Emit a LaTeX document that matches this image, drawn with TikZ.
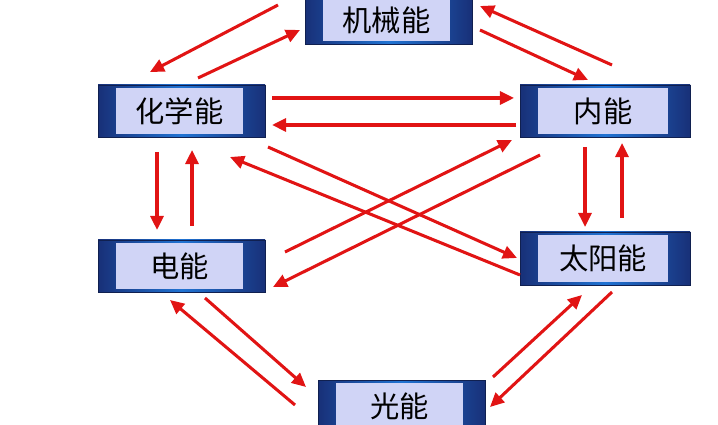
\documentclass[tikz,border=0pt]{standalone}
\usepackage{fontspec}
\newfontfamily\cjk{Noto Sans CJK SC}
\usetikzlibrary{arrows.meta}
\definecolor{lav}{RGB}{208,212,246}
\definecolor{bl}{RGB}{40,80,200}
\definecolor{arr}{RGB}{225,20,20}
\tikzset{ar/.style={draw=arr,line width=2.6pt,-{Triangle[length=12pt,width=11pt]}}}
\newcommand\ebox[6]{% name x1 y1 x2 y2 text
 \shade[left color=bl!60!black,right color=bl!60!black,middle color=bl!80!cyan] (#2,#3) rectangle (#4,#5);
 \draw[bl!40!black,line width=0.6pt] (#2,#3) rectangle (#4,#5);
 \node[fill=lav,inner sep=0pt,minimum width=(#4-#2-40)*0.03cm,minimum height=(#5-#3-6)*0.03cm,font=\cjk\fontsize{25}{25}\selectfont] (#1) at ({(#2+#4)/2-2},{(#3+#5)/2}) {#6};}
\begin{document}
\begin{tikzpicture}[x=0.03cm,y=-0.03cm]
\useasboundingbox (0,0) rectangle (718,425);
\ebox{jx}{305}{-4}{472}{44}{机械能}
\ebox{hx}{98}{85}{265}{137}{化学能}
\ebox{nn}{520}{85}{690}{137}{内能}
\ebox{dn}{98}{240}{265}{292}{电能}
\ebox{ty}{520}{232}{690}{285}{太阳能}
\ebox{gn}{318}{380}{485}{432}{光能}
\coordinate (a1) at (278,5); \coordinate (a2) at (150,72);
\coordinate (b1) at (198,78); \coordinate (b2) at (300,30);
\coordinate (c1) at (480,30); \coordinate (c2) at (588,80);
\coordinate (d1) at (612,65); \coordinate (d2) at (480,6);
\coordinate (e1) at (272,98); \coordinate (e2) at (514,98);
\coordinate (f1) at (516,125); \coordinate (f2) at (272,125);
\coordinate (g1) at (157,152); \coordinate (g2) at (157,230);
\coordinate (h1) at (192,226); \coordinate (h2) at (192,150);
\coordinate (i1) at (585,147); \coordinate (i2) at (585,227);
\coordinate (j1) at (622,218); \coordinate (j2) at (622,143);
\coordinate (k1) at (268,147); \coordinate (k2) at (517,258);
\coordinate (l1) at (520,275); \coordinate (l2) at (230,157);
\coordinate (m1) at (285,252); \coordinate (m2) at (512,140);
\coordinate (n1) at (540,155); \coordinate (n2) at (273,287);
\coordinate (o1) at (205,298); \coordinate (o2) at (306,387);
\coordinate (p1) at (295,405); \coordinate (p2) at (170,300);
\coordinate (q1) at (612,292); \coordinate (q2) at (490,407);
\coordinate (r1) at (493,377); \coordinate (r2) at (582,295);
\foreach \s/\t in {a1/a2,b1/b2,c1/c2,d1/d2,e1/e2,f1/f2,g1/g2,h1/h2,i1/i2,j1/j2,k1/k2,l1/l2,m1/m2,n1/n2,o1/o2,p1/p2,q1/q2,r1/r2}
  \draw[ar] (\s) -- (\t);
\end{tikzpicture}
\end{document}
